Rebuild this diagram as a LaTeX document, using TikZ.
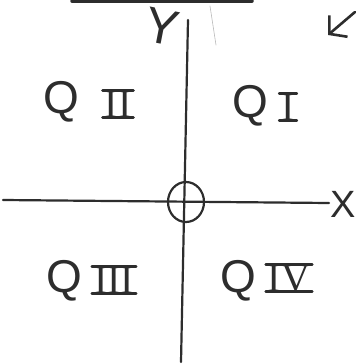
\documentclass[tikz,border=0pt]{standalone}
\usepackage{fontspec}
\setmainfont{Liberation Serif}
\setsansfont{Liberation Sans}
\usetikzlibrary{arrows.meta,shapes.geometric}
\definecolor{pencil}{RGB}{45,45,45}
\begin{document}
\begin{tikzpicture}[x=1pt,y=-1pt,line cap=round,
  pen/.style={draw=pencil,line width=2.2pt},
  qlab/.style={font=\sffamily\fontsize{46}{46}\selectfont,text=pencil,inner sep=0pt},
  rnum/.style={font=\fontsize{40}{40}\selectfont,text=pencil,inner xsep=2pt,inner ysep=0pt,text depth=0pt},
  bar/.style={draw=pencil,line width=2.6pt},
  axislab/.style={font=\sffamily\fontsize{38}{38}\selectfont,text=pencil,inner sep=0pt}]
\useasboundingbox (0,0) rectangle (357,364);
\fill[white] (0,0) rectangle (357,364);

% top bar and faint line
\coordinate (barl) at (72,1);
\coordinate (barr) at (252,1);
\draw[draw=pencil,line width=3.5pt] (barl) -- (barr);
\coordinate (fainta) at (210,6);
\coordinate (faintb) at (216,45);
\draw[gray!55,line width=0.6pt] (fainta) -- (faintb);

% axes
\coordinate (ytop) at (188,20);
\coordinate (ybot) at (181,362);
\coordinate (xleft) at (3,200);
\coordinate (xright) at (329,203);
\draw[pen] (ytop) -- (ybot);
\draw[pen] (xleft) -- (xright);
\node[draw=pencil,line width=2.2pt,ellipse,minimum width=36pt,minimum height=40pt,inner sep=0pt] (origin) at (186,202) {};

% axis labels
\node[axislab,font=\sffamily\fontsize{50}{50}\selectfont,rotate=-11] (ylab) at (162,27) {Y};
\node[axislab] (xlab) at (343,204) {X};

% arrow
\coordinate (atail) at (355,12);
\coordinate (ahead) at (328,35);
\draw[pen,line width=2.6pt,-{Straight Barb[length=12pt,width=28pt]}] (atail) -- (ahead);

% quadrant labels
\node[qlab] (q2) at (61,102) {Q};
\node[rnum] (n2) at (118,104) {II};
\node[qlab] (q1) at (250,106) {Q};
\node[rnum] (n1) at (288,107) {I};
\node[qlab] (q3) at (64,281) {Q};
\node[rnum] (n3) at (114,280) {III};
\node[qlab] (q4) at (238,281) {Q};
\node[rnum] (n4) at (289,278) {IV};
\foreach \n in {n1,n2,n3,n4}{
  \draw[bar] (\n.north west) -- (\n.north east);
  \draw[bar] (\n.south west) -- (\n.south east);
}
\end{tikzpicture}
\end{document}
